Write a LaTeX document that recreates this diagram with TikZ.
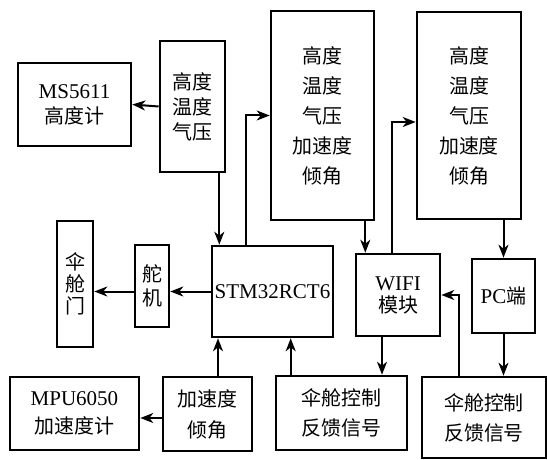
\documentclass[tikz,border=0pt]{standalone}
\usepackage{fontspec}
\setmainfont{Liberation Serif}
\newfontfamily\cjk{Noto Sans CJK SC}[Scale=0.95]
\usepackage{tikz}
\usetikzlibrary{arrows.meta}
\newcommand{\fsz}[1]{\fontsize{21}{#1}\selectfont}

\begin{document}
\begin{tikzpicture}[x=1pt, y=-1pt,
  blk/.style = {
    rectangle, draw=black, line width=2.6pt,
    align=center, inner sep=0pt,
    font=\fsz{25}},
  arr/.style = {-{Stealth[length=13pt,width=10pt,inset=4pt]}, line width=2pt}
]
\useasboundingbox (0,0) rectangle (547,460);

%── top row: sensor data ─────────────────────────────────────────
\node[blk, minimum width=113pt, minimum height=83pt] (MS) at (74.5,104.5)
  {MS5611\\\cjk 高度计};

\node[blk, font=\fsz{25}\cjk, minimum width=65pt, minimum height=131pt] (D1) at (192.5,106.5)
  {高度\\温度\\气压};

\node[blk, font=\fsz{30}\cjk, minimum width=103pt, minimum height=209pt] (D2) at (322.5,115.5)
  {高度\\温度\\气压\\加速度\\倾角};

\node[blk, font=\fsz{30}\cjk, minimum width=104pt, minimum height=207pt] (D3) at (469,115.5)
  {高度\\温度\\气压\\加速度\\倾角};

%── middle row: controller and modules ───────────────────────────
\node[blk, font=\fsz{22}\cjk, minimum width=36pt, minimum height=126pt] (HATCH) at (75,284)
  {伞\\舱\\门};

\node[blk, font=\fsz{24}\cjk, minimum width=34pt, minimum height=82pt] (SERVO) at (152,286)
  {舵\\机};

\node[blk, minimum width=121pt, minimum height=91pt] (MCU) at (272.5,291.5)
  {STM32RCT6};

\node[blk, font=\fsz{22}, minimum width=84pt, minimum height=82pt] (WIFI) at (398,295)
  {WIFI\\\cjk 模块};

\node[blk, minimum width=63pt, minimum height=74pt] (PC) at (503.5,296)
  {PC{\cjk 端}};

%── bottom row ───────────────────────────────────────────────────
\node[blk, font=\fsz{28}, minimum width=129pt, minimum height=73pt] (MPU) at (74.5,413.5)
  {MPU6050\\\cjk 加速度计};

\node[blk, font=\fsz{31}\cjk, minimum width=89pt, minimum height=74pt] (ACC) at (207.5,414)
  {加速度\\倾角};

\node[blk, font=\fsz{30}\cjk, minimum width=131pt, minimum height=74pt] (FB1) at (341.5,413)
  {伞舱控制\\反馈信号};

\node[blk, font=\fsz{30}\cjk, minimum width=124pt, minimum height=81pt] (FB2) at (484,417.5)
  {伞舱控制\\反馈信号};

%── connectors ───────────────────────────────────────────────────
\draw[arr] (D1.west) -- (MS.east);
\draw[arr] ([xshift=-7pt]D1.south east) -- ([xshift=-7pt]D1.south east |- MCU.north);
\draw[arr] ([xshift=35pt]MCU.north west) |- (D2.west);
\draw[arr] ([xshift=-10pt]D2.south east) -- ([xshift=-10pt]D2.south east |- WIFI.north);
\draw[arr] ([xshift=37pt]WIFI.north west) |- ([yshift=-6.5pt]D3.west);
\draw[arr] (PC.north |- D3.south) -- (PC.north);

\draw[arr] (MCU.west) -- (MCU.west -| SERVO.east);
\draw[arr] (MCU.west -| SERVO.west) -- (MCU.west -| HATCH.east);

\draw[arr] ([yshift=-4pt]ACC.west) -- ([yshift=-4pt]ACC.west -| MPU.east);
\draw[arr] ([xshift=10.5pt]ACC.north) -- ([xshift=10.5pt]ACC.north |- MCU.south);
\draw[arr] ([xshift=16pt]FB1.north west) -- ([xshift=16pt]FB1.north west |- MCU.south);
\draw[arr] ([xshift=-16pt]WIFI.south) -- ([xshift=-16pt]WIFI.south |- FB1.north);
\draw[arr] ([xshift=38pt]FB2.north west) |- (WIFI.east);
\draw[arr] (PC.south) -- (PC.south |- FB2.north);

\end{tikzpicture}
\end{document}
